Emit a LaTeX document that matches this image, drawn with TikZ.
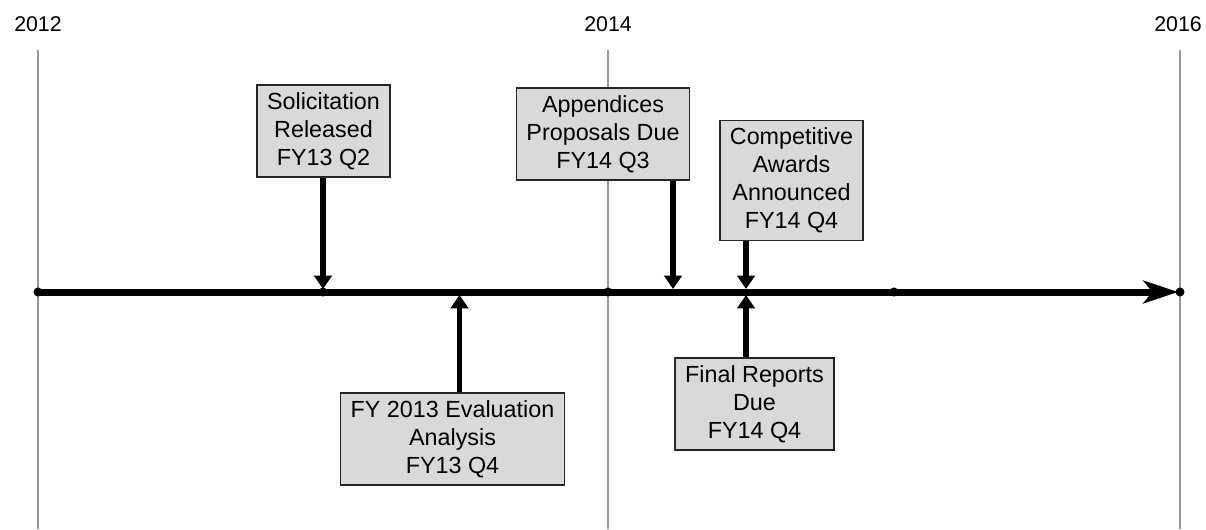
\documentclass[tikz,border=0pt]{standalone}
\usepackage{fontspec}
\setmainfont{Liberation Sans}
\usetikzlibrary{arrows.meta, positioning}

\begin{document}
\begin{tikzpicture}[
    x=0.75pt, y=-0.75pt,
    font=\fontsize{17.5}{21}\selectfont,
    gridline/.style={draw=black!40, line width=1.1pt},
    year/.style={font=\fontsize{16}{19}\selectfont},
    event/.style={rectangle, draw=black!85, line width=1pt, fill=black!15,
                  align=center, inner xsep=7.5pt, inner ysep=5.5pt},
    tline/.style={line width=5.25pt, -{Stealth[length=26pt, width=17pt, inset=7pt]}},
    evarrow/.style={line width=4pt, -{Triangle[length=10pt, width=13pt]}}
]
\useasboundingbox (0,0) rectangle (1206,529);
% years and grid
\node[year] (y2012) at (38,24)   {2012};
\node[year] (y2014) at (608,24)  {2014};
\node[year] (y2016) at (1178,24) {2016};
\foreach \x in {38,608,1180}
  \draw[gridline] (\x,50) -- (\x,529);
% time line
\coordinate (t0) at (38,292);
\coordinate (t1) at (1178,292);
\draw[tline] (t0) -- (t1);
\foreach \x in {38,323,608,894,1180}
  \fill (\x,292) circle (3.4pt);
% events above
\node[event] (sol) at (323.5,131) {Solicitation\\Released\\FY13 Q2};
\node[event] (app) at (603,134)   {Appendices\\Proposals Due\\FY14 Q3};
\node[event] (awd) at (791.5,180.5) {Competitive\\Awards\\Announced\\FY14 Q4};
% events below
\node[event] (evl) at (452.5,439) {FY 2013 Evaluation\\Analysis\\FY13 Q4};
\node[event] (fin) at (754.5,404) {Final Reports\\Due\\FY14 Q4};
\coordinate (t-sol) at (323,289);
\coordinate (t-app) at (673,289);
\coordinate (t-awd) at (746,289);
\coordinate (t-evl) at (459.5,295);
\coordinate (t-fin) at (746,295);
\draw[evarrow] (sol.south -| t-sol) -- (t-sol);
\draw[evarrow] (app.south -| t-app) -- (t-app);
\draw[evarrow] (awd.south -| t-awd) -- (t-awd);
\draw[evarrow] (evl.north -| t-evl) -- (t-evl);
\draw[evarrow] (fin.north -| t-fin) -- (t-fin);
\end{tikzpicture}
\end{document}
